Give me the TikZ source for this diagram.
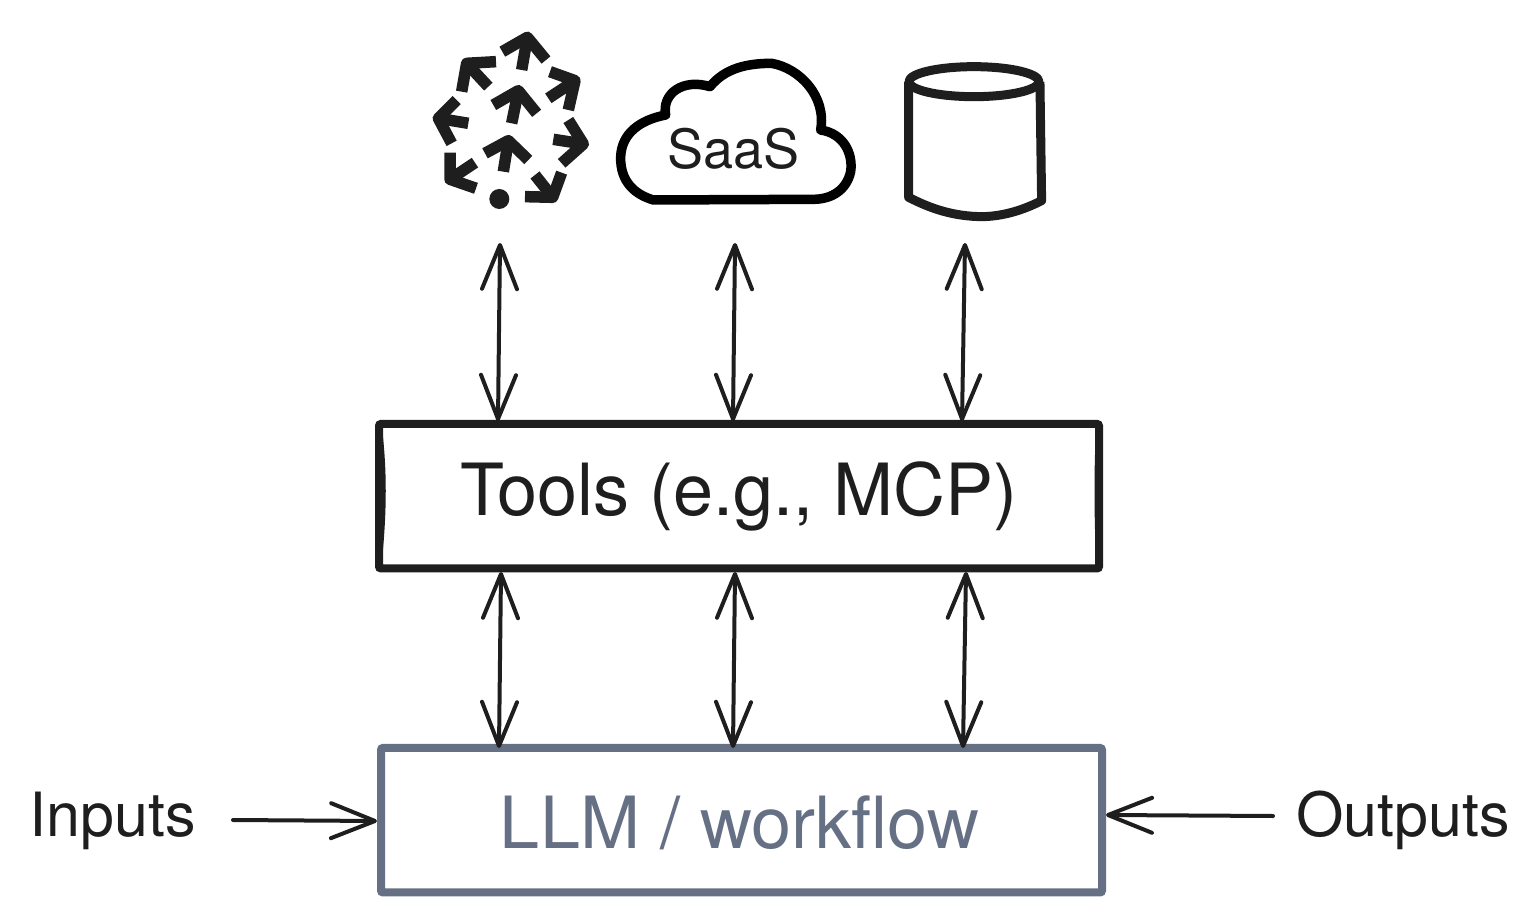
\documentclass[tikz,border=0pt]{standalone}
\usepackage{fontspec}
\setmainfont{TeX Gyre Heros}
\usetikzlibrary{arrows.meta}
\definecolor{ink}{HTML}{1E1E1E}
\definecolor{slate}{HTML}{667085}
\tikzset{
  boxdark/.style={draw=ink,line width=8pt,rounded corners=2pt,minimum width=720pt,minimum height=144.5pt,inner sep=0pt,font=\fontsize{72}{76}\selectfont,text=ink},
  boxslate/.style={draw=slate,line width=8pt,rounded corners=2pt,minimum width=721pt,minimum height=144.5pt,inner sep=0pt,font=\fontsize{72}{76}\selectfont,text=slate},
  sidelabel/.style={inner sep=0pt,font=\fontsize{61}{65}\selectfont,text=ink},
  both/.style={draw=ink,line width=4pt,line cap=round,{Straight Barb[length=44pt,width=35pt,line width=4pt,round]}-{Straight Barb[length=44pt,width=35pt,line width=4pt,round]}},
  single/.style={draw=ink,line width=4pt,line cap=round,-{Straight Barb[length=44pt,width=35pt,line width=4pt,round]}},
  glyph/.style={draw=ink,line width=11.5pt,line join=round,line cap=butt},
  cloudline/.style={draw=black,line width=9.5pt,line join=round},
  dbline/.style={draw=ink,line width=9pt,line join=round}
}
\newcommand{\spoke}[4]{\draw[glyph] #2 -- #1 -- #3; \draw[glyph] #1 -- #4;}
\begin{document}
\begin{tikzpicture}[x=1pt,y=-1pt]
\useasboundingbox (0,0) rectangle (1532,912);
\node[boxdark] (tools) at (739,496.2) {};
\node[font=\fontsize{72}{76}\selectfont,text=ink,inner sep=0pt] (toolstext) at (739,496) {Tools (e.g., MCP)};
\fill[ink] (382,428) .. controls (387,470) and (387,510) .. (382,560) -- cycle;
\fill[ink] (1096,428) .. controls (1094,470) and (1094,510) .. (1096,560) -- cycle;
\node[boxslate] (llm) at (741.5,820.2) {};
\node[font=\fontsize{72}{76}\selectfont,text=slate,inner sep=0pt] (llmtext) at (739.5,823) {LLM / workflow};
\node[sidelabel] (inputs) at (113,821) {Inputs};
\node[sidelabel] (outputs) at (1403,820) {Outputs};
% network icon
\begin{scope}[shift={(420,20)},x=0.3333pt,y=-0.3333pt]
\spoke{(322,52)}{(247,95)}{(378,120)}{(305,150)}
\spoke{(465,182)}{(390,155)}{(445,270)}{(385,235)}
\spoke{(490,372)}{(445,300)}{(425,430)}{(400,358)}
\spoke{(398,532)}{(425,458)}{(315,530)}{(345,465)}
\spoke{(90,478)}{(90,398)}{(168,505)}{(165,428)}
\spoke{(55,295)}{(110,240)}{(95,370)}{(145,310)}
\spoke{(140,130)}{(228,125)}{(125,215)}{(205,200)}
\spoke{(295,212)}{(220,255)}{(350,280)}{(275,310)}
\spoke{(265,362)}{(195,400)}{(325,420)}{(250,455)}
\fill[ink] (238,537) circle[radius=10pt];
\end{scope}
% cloud
\begin{scope}[shift={(600,40)},x=0.3333pt,y=-0.3333pt]
\draw[cloudline] (160,480) .. controls (110,465) and (60,430) .. (62,350)
 .. controls (65,280) and (120,240) .. (197,225)
 .. controls (185,160) and (250,115) .. (330,140)
 .. controls (375,85) and (440,70) .. (515,70)
 .. controls (600,85) and (680,170) .. (662,270)
 .. controls (730,280) and (760,340) .. (752,395)
 .. controls (740,450) and (695,478) .. (640,478)
 -- cycle;
\node[inner sep=0pt,font=\fontsize{54}{58}\selectfont,text=ink] (saas) at (400,325) {SaaS};
\end{scope}
% database
\begin{scope}[shift={(600,40)},x=0.3333pt,y=-0.3333pt]
\draw[dbline] (1122,125) ellipse[x radius=65pt,y radius=15pt];
\draw[dbline] (926,125) -- (926,472) .. controls (990,505) and (1060,530) .. (1150,530) .. controls (1220,528) and (1280,505) .. (1325,482) -- (1320,125);
\fill[ink] (1050,512) .. controls (1100,540) and (1200,550) .. (1260,508) .. controls (1200,525) and (1100,525) .. (1050,512) -- cycle;
\end{scope}
% connector ends
\coordinate (a1t) at (500,243); \coordinate (a2t) at (735,243); \coordinate (a3t) at (965,243);
\coordinate (a1b) at (498,421); \coordinate (a2b) at (733,421); \coordinate (a3b) at (962,421);
\coordinate (b1t) at (501,572); \coordinate (b2t) at (735,572); \coordinate (b3t) at (966,572);
\coordinate (b1b) at (499,748); \coordinate (b2b) at (733,748); \coordinate (b3b) at (963,748);
\coordinate (inend) at (233,820); \coordinate (outend) at (1273,816);
\draw[both] (a1t) -- (a1b);
\draw[both] (a2t) -- (a2b);
\draw[both] (a3t) -- (a3b);
\draw[both] (b1t) -- (b1b);
\draw[both] (b2t) -- (b2b);
\draw[both] (b3t) -- (b3b);
\draw[single] (inend) -- (llm.west |- 0,821);
\draw[single] (outend) -- (llm.east |- 0,815);
\end{tikzpicture}
\end{document}
